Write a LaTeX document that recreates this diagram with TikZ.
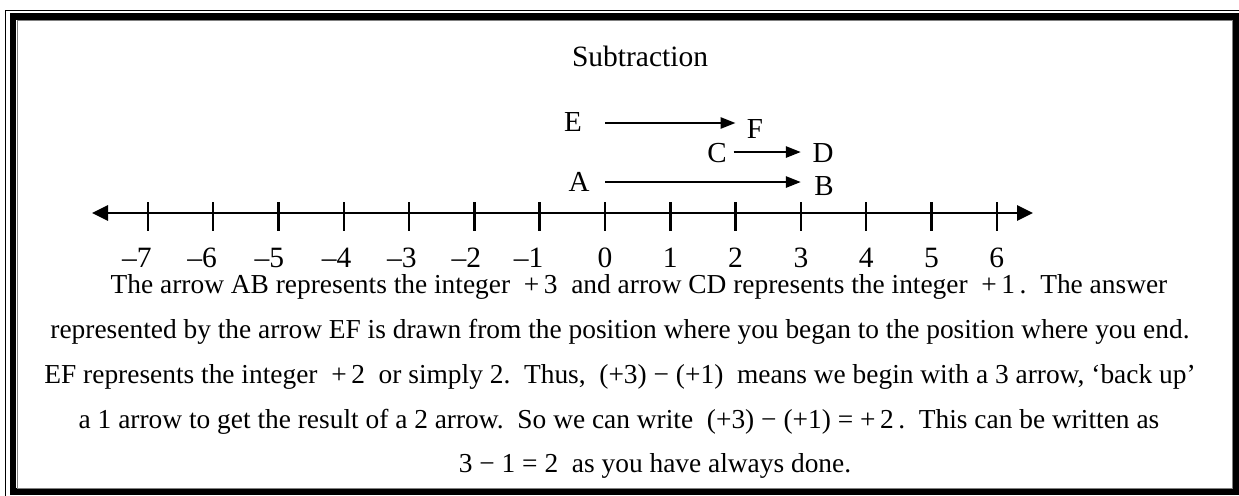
\documentclass[tikz,border=0pt]{standalone}
\usepackage{fontspec}
\setmainfont{Liberation Serif}
\usetikzlibrary{arrows.meta}

\begin{document}
\begin{tikzpicture}[x=0.5pt,y=-0.5pt]
% Styles
\tikzstyle{fleche}=[-{Triangle[length=7.5pt,width=5.5pt]},line width=1.3pt]
\tikzstyle{axe}=[{Triangle[length=8pt,width=7.5pt]}-{Triangle[length=8pt,width=7.5pt]},line width=1.35pt]
\tikzstyle{graduation}=[line width=1.25pt]
\tikzstyle{lettre}=[inner sep=0pt,anchor=base,font=\fontsize{14.5}{17}\selectfont]
\tikzstyle{etiquette}=[inner sep=0pt,anchor=base,font=\fontsize{14.75}{17}\selectfont]
\tikzstyle{etiquette1}=[etiquette,anchor=base east]
\tikzstyle{texte}=[inner sep=0pt,anchor=base,font=\fontsize{13.7}{16}\selectfont]
% Dimensions
\def\Unite{65.3}
\def\Origine{605}
\def\Axe{213}
\def\Chiffres{267}
\def\Interligne{44.8}
\useasboundingbox (0,0) rectangle (1239,495);
% Cadre
\draw[line width=0.5pt] (5,10) rectangle (1260,520);
\draw[line width=3.3pt] (13,16.5) rectangle (1236,491.5);
\draw[line width=0.4pt,gray] (17,20.8) rectangle (1232.3,488);
% Titre
\node[etiquette] (titre) at (640,66) {Subtraction};
% Axe
\coordinate (gauche) at (92,\Axe);
\coordinate (droite) at (1033,\Axe);
\draw[axe] (gauche)--(droite);
\foreach \n in {-7,...,6}
  \draw[graduation] ({\Origine+\n*\Unite},202)--({\Origine+\n*\Unite},231);
% Graduations
\node[etiquette1] (m7) at ({\Origine-7*\Unite+4},\Chiffres) {–7};
\node[etiquette1] (m6) at ({\Origine-6*\Unite+4},\Chiffres) {–6};
\node[etiquette1] (m5) at ({\Origine-5*\Unite+6},\Chiffres) {–5};
\node[etiquette1] (m4) at ({\Origine-4*\Unite+8},\Chiffres) {–4};
\node[etiquette1] (m3) at ({\Origine-3*\Unite+8},\Chiffres) {–3};
\node[etiquette1] (m2) at ({\Origine-2*\Unite+7},\Chiffres) {–2};
\node[etiquette1] (m1) at ({\Origine-1*\Unite+4},\Chiffres) {–1};
\node[etiquette] (p0) at ({\Origine},\Chiffres) {0};
\node[etiquette] (p1) at ({\Origine+1*\Unite},\Chiffres) {1};
\node[etiquette] (p2) at ({\Origine+2*\Unite},\Chiffres) {2};
\node[etiquette] (p3) at ({\Origine+3*\Unite},\Chiffres) {3};
\node[etiquette] (p4) at ({\Origine+4*\Unite},\Chiffres) {4};
\node[etiquette] (p5) at ({\Origine+5*\Unite},\Chiffres) {5};
\node[etiquette] (p6) at ({\Origine+6*\Unite},\Chiffres) {6};
% Lettres
\node[lettre] (A) at (579,191) {A};
\node[lettre] (B) at (824,195) {B};
\node[lettre] (C) at (717,162) {C};
\node[lettre] (D) at (823,162) {D};
\node[lettre] (E) at (573,131) {E};
\node[lettre] (F) at (755,138) {F};
% Fleches
\coordinate (Adeb) at ({\Origine},182);
\coordinate (Bfin) at ({\Origine+3*\Unite},182);
\coordinate (Cdeb) at ({\Origine+2*\Unite-2},152);
\coordinate (Dfin) at ({\Origine+3*\Unite},152);
\coordinate (Edeb) at ({\Origine},123);
\coordinate (Ffin) at ({\Origine+2*\Unite},123);
\draw[fleche] (Adeb)--(Bfin);
\draw[fleche] (Cdeb)--(Dfin);
\draw[fleche] (Edeb)--(Ffin);
% Texte
\node[texte] (l1) at (639,{428-3*\Interligne}) {The arrow AB represents the integer\ \ +\,3\ \ and arrow CD represents the integer\ \ +\,1\,.\ \ The answer};
\node[texte] (l2) at (620,{428-2*\Interligne}) {represented by the arrow EF is drawn from the position where you began to the position where you end.};
\node[texte] (l3) at (620,{428-\Interligne}) {EF represents the integer\ \ +\,2\ \ or simply 2.\ \ Thus,\ \ (+3) − (+1)\ \ means we begin with a 3 arrow, ‘back up’};
\node[texte] (l4) at (619,428) {a 1 arrow to get the result of a 2 arrow.\ \ So we can write\ \ (+3) − (+1) = +\,2\,.\ \ This can be written as};
\node[texte] (l5) at (655,{428+\Interligne}) {3 − 1 = 2\ \ as you have always done.};
\end{tikzpicture}
\end{document}
